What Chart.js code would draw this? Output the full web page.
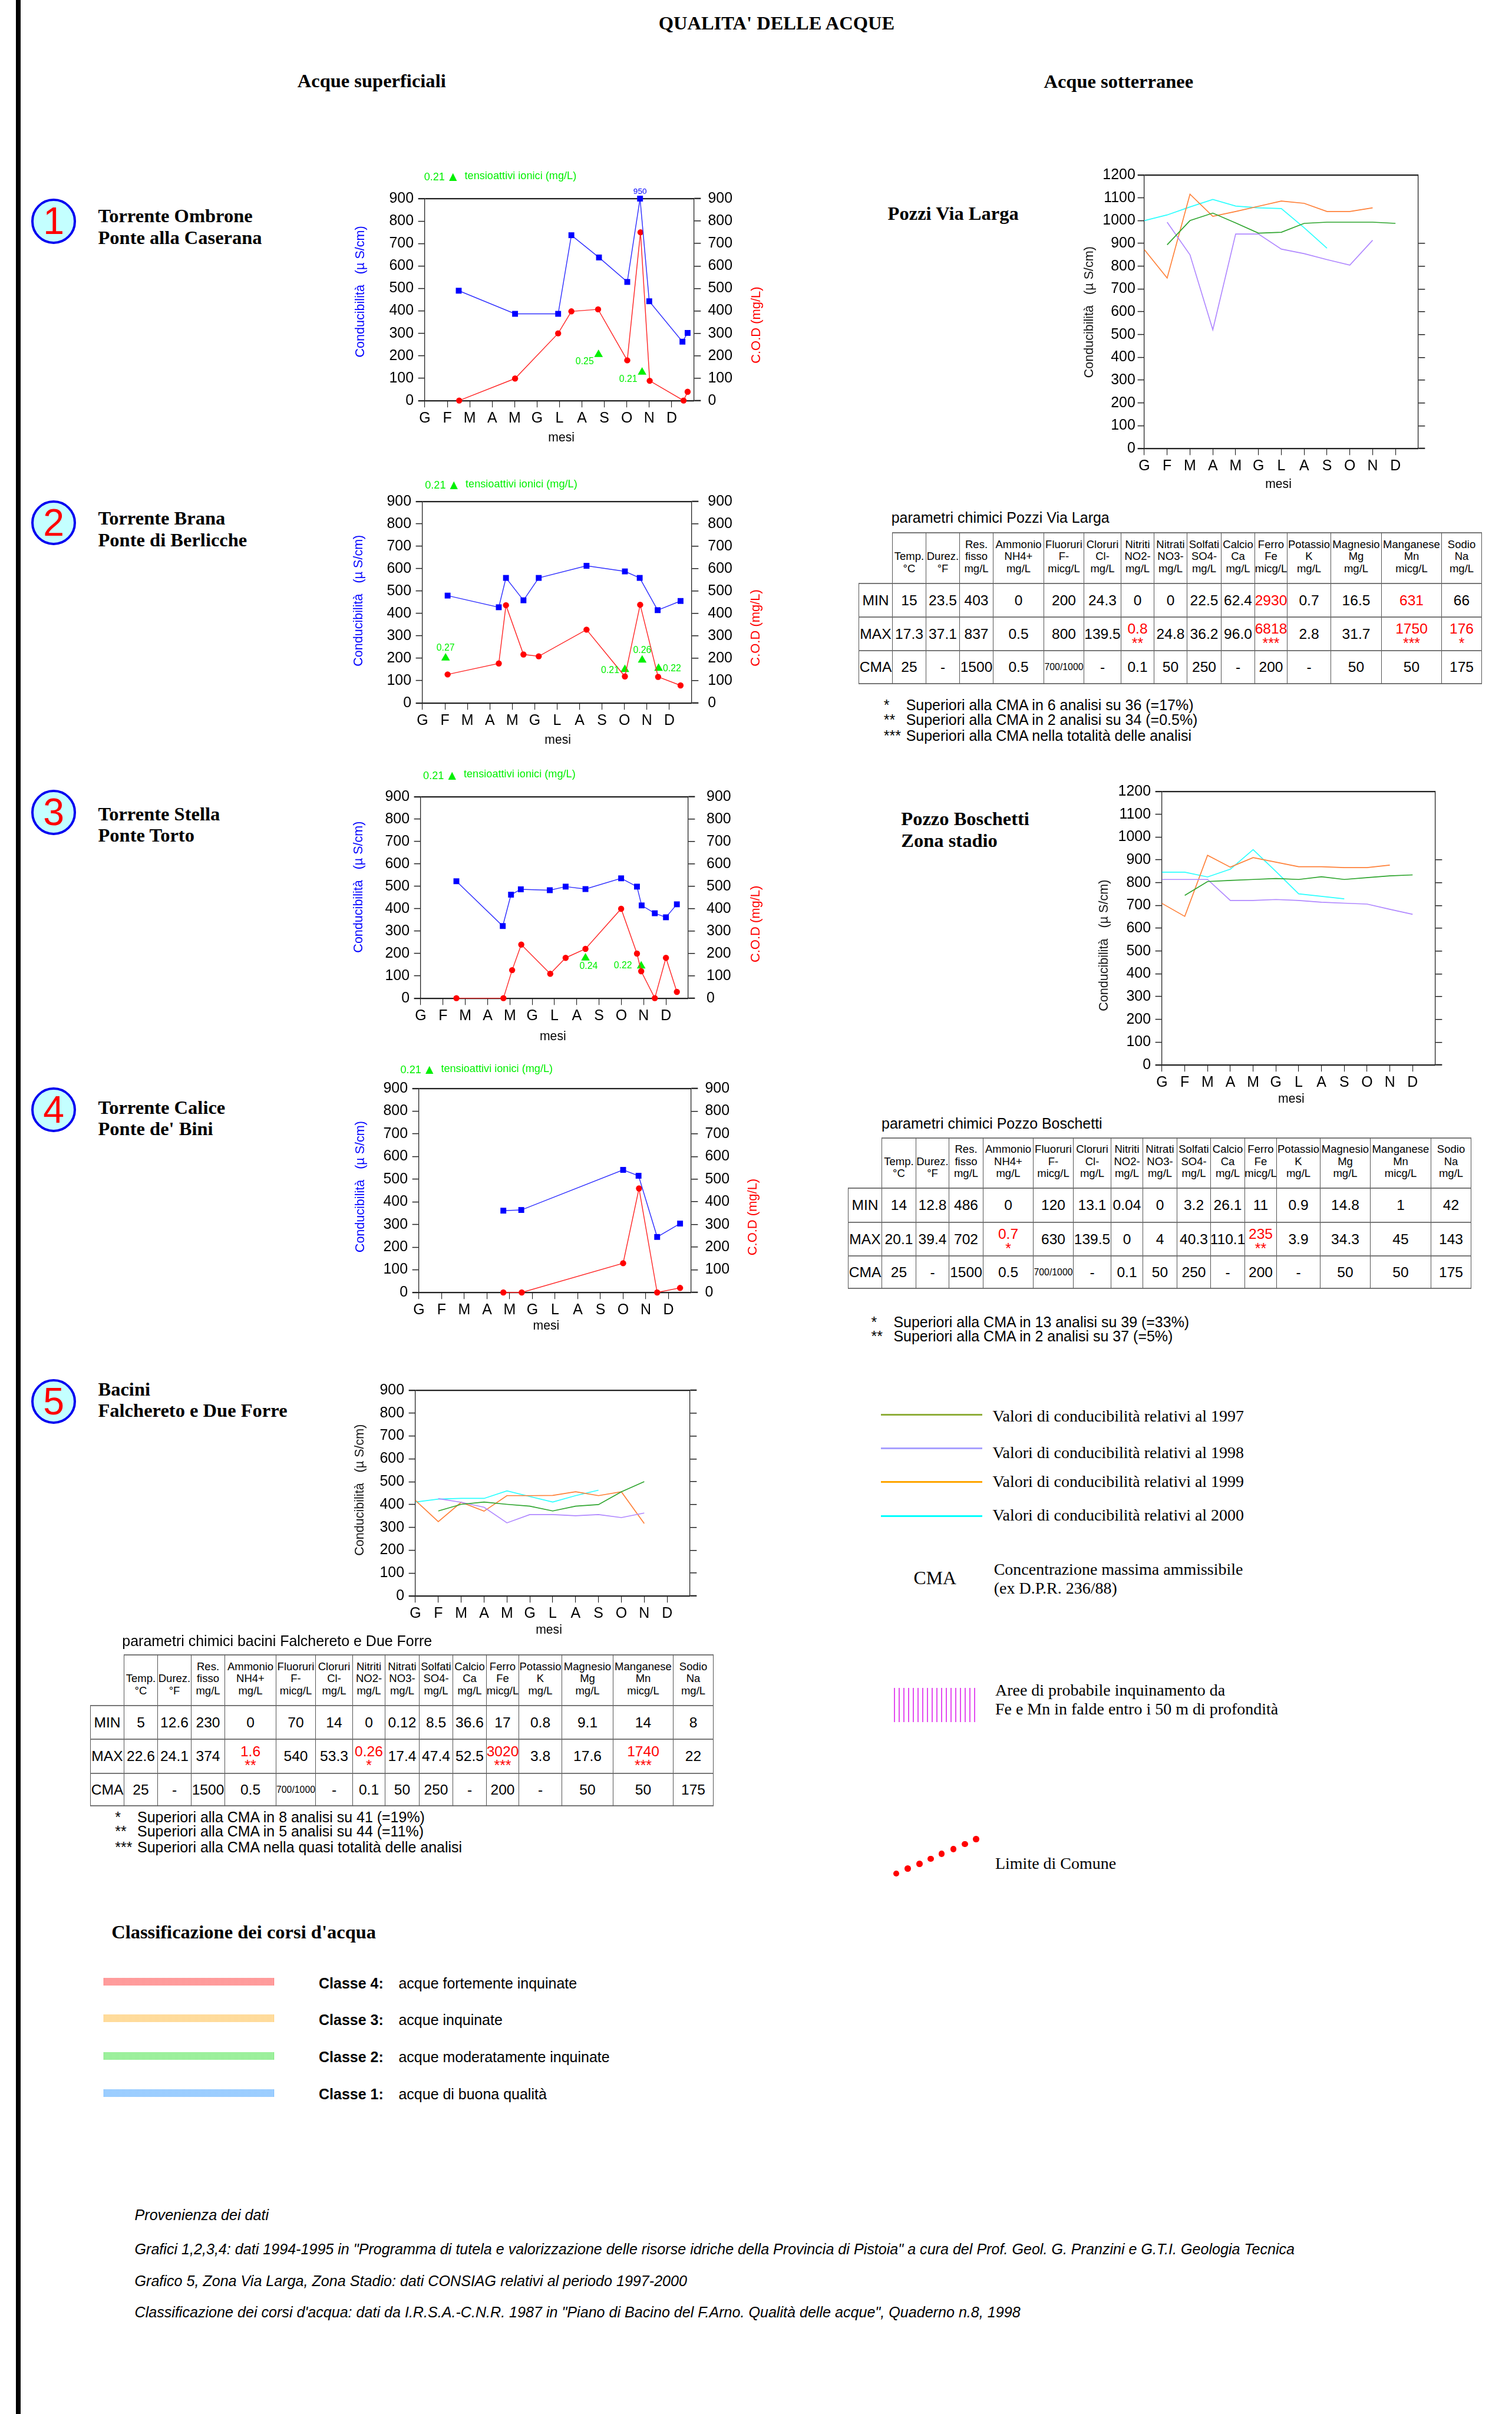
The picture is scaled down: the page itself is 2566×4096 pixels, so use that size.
<!DOCTYPE html>
<html lang="it"><head><meta charset="utf-8"><title>Qualita' delle acque</title>
<script src="https://cdn.jsdelivr.net/npm/chart.js@4"></script>
<style>
html,body{margin:0;padding:0;background:#fff}
#page{position:relative;width:2566px;height:4096px;overflow:hidden;background:#fff}
#page canvas{position:absolute;display:block}
.t{position:absolute;white-space:nowrap;line-height:1;transform:translateY(-50%);color:#000}
.tb{position:absolute;border-spacing:0;border-collapse:separate;table-layout:fixed;font-family:'Liberation Sans',Arial,sans-serif}
.tb td{position:relative;padding:0;box-sizing:border-box}
.tb span{position:absolute;left:50%;transform:translate(-50%,-50%);white-space:nowrap;line-height:1;text-align:center;display:block}
</style></head><body><div id="page"></div>
<script>
// ---------- data ----------
const months=['G','F','M','A','M','G','L','A','S','O','N','D'];
const tickOrder=[0,1,2,3,4,5,6,7,8,9,10,11];

const ombroneCondX=[1.51,4.02,5.94,6.53,7.76,9.02,9.59,10.0,11.48,11.71];
const ombroneCond=[490,387,387,737,638,529,900,443,263,302];
const ombroneCondNotes=['','','','','','','950','','',''];
const ombroneCodX=[1.53,4.02,5.94,6.53,7.72,9.02,9.61,10.02,11.53,11.71];
const ombroneCod=[1,99,300,398,407,180,750,89,1,40];
const ombroneTensX=[7.74,9.68];
const ombroneTens=[206,127];
const ombroneTensNotes=['0.25','0.21'];
const ombroneTensSides=['bl','bl'];

const branaCondX=[1.12,3.40,3.72,4.50,5.18,7.31,9.02,9.68,10.48,11.5];
const branaCond=[480,428,559,459,559,613,588,559,415,456];
const branaCodX=[1.12,3.40,3.72,4.50,5.18,7.31,9.02,9.70,10.5,11.5];
const branaCod=[128,177,437,217,209,328,119,439,117,79];
const branaTensX=[1.03,9.02,9.79,10.52];
const branaTens=[201,150,192,155];
const branaTensNotes=['0.27','0.21','0.26','0.22'];
const branaTensSides=['a','l','a','r'];

const stellaCondX=[1.60,3.68,4.05,4.49,5.79,6.50,7.39,8.99,9.70,9.91,10.5,11.0,11.49];
const stellaCond=[523,323,463,487,483,499,488,536,499,415,380,362,420];
const stellaCodX=[1.6,3.71,4.10,4.51,5.81,6.5,7.39,8.99,9.7,9.89,10.5,11.0,11.49];
const stellaCod=[1,1,126,240,110,181,221,400,200,121,1,181,29];
const stellaTensX=[7.39,9.89];
const stellaTens=[180,145];
const stellaTensNotes=['0.24','0.22'];
const stellaTensSides=['b','ll'];

const caliceCondX=[3.72,4.51,9.0,9.68,10.5,11.51];
const caliceCond=[361,364,541,515,245,304];
const caliceCodX=[3.72,4.53,9.0,9.7,10.5,11.51];
const caliceCod=[0,0,129,459,0,20];

const bacini1997=[null,372,401,411,401,393,372,393,400,456,500,null];
const bacini1998=[null,426,410,388,320,356,356,351,356,343,363,null];
const bacini1999=[418,325,410,371,439,439,440,456,439,456,317,null];
const bacini2000=[411,424,427,427,460,435,411,439,463,null,null,null];

const viaLarga1997=[null,894,1000,1033,990,945,949,988,993,993,993,988];
const viaLarga1998=[null,993,850,521,941,941,875,855,829,805,914,null];
const viaLarga1999=[873,748,1116,1019,1040,1063,1086,1076,1040,1040,1056,null];
const viaLarga2000=[1000,1025,1060,1093,1064,1056,1053,969,879,null,null,null];

const boschetti1997=[null,744,805,810,814,818,814,826,814,822,830,834];
const boschetti1998=[814,814,814,722,722,726,722,714,710,706,683,661];
const boschetti1999=[709,652,920,868,910,890,870,870,866,866,877,null];
const boschetti2000=[846,846,825,859,945,849,751,740,729,null,null,null];

const tableHeaders=[['','Temp.','°C'],['','Durez.','°F'],['Res.','fisso','mg/L'],['Ammonio','NH4+','mg/L'],['Fluoruri','F-','micg/L'],['Cloruri','Cl-','mg/L'],['Nitriti','NO2-','mg/L'],['Nitrati','NO3-','mg/L'],['Solfati','SO4-','mg/L'],['Calcio','Ca','mg/L'],['Ferro','Fe','micg/L'],['Potassio','K','mg/L'],['Magnesio','Mg','mg/L'],['Manganese','Mn','micg/L'],['Sodio','Na','mg/L']];
const cmaRow=['25','-','1500','0.5','700/1000','-','0.1','50','250','-','200','-','50','50','175'];
const viaLargaMin=['15','23.5','403','0','200','24.3','0','0','22.5','62.4','2930','0.7','16.5','631','66'];
const viaLargaMax=['17.3','37.1','837','0.5','800','139.5','0.8','24.8','36.2','96.0','6818','2.8','31.7','1750','176'];
const viaLargaMinRed=[10,13];
const viaLargaStars={6:'**',10:'***',13:'***',14:'*'};
const boschettiMin=['14','12.8','486','0','120','13.1','0.04','0','3.2','26.1','11','0.9','14.8','1','42'];
const boschettiMax=['20.1','39.4','702','0.7','630','139.5','0','4','40.3','110.1','235','3.9','34.3','45','143'];
const boschettiMinRed=[];
const boschettiStars={3:'*',10:'**'};
const baciniMin=['5','12.6','230','0','70','14','0','0.12','8.5','36.6','17','0.8','9.1','14','8'];
const baciniMax=['22.6','24.1','374','1.6','540','53.3','0.26','17.4','47.4','52.5','3020','3.8','17.6','1740','22'];
const baciniMinRed=[];
const baciniStars={3:'**',6:'*',10:'***',13:'***'};

// ---------- layout (reference pixels, scaled by S) ----------
const S=2566/3391;
const SANS="'Liberation Sans',Arial,sans-serif", SERIF="'Liberation Serif','Times New Roman',serif";
const page=document.getElementById('page');
const px=v=>v*S;
const zip=(xs,ys)=>xs.map((x,i)=>({x,y:ys[i]}));
const BLUE='#0000ff',RED='#ff0000',LIME='#00f000';
const YEAR={y1997:'#2fa52f',y1998:'#b088ff',y1999:'#ff8038',y2000:'#2cffff'};
const LEG={y1997:'#8fae3a',y1998:'#a8a0ff',y1999:'#ffa500',y2000:'#00ffff'};
const LEFT=170,RIGHT=170,TOP=80,BOTTOM=110;
const NOTE_OFF={bl:[-31,16],l:[-33,2],ll:[-41,0],a:[0,-22],r:[30,1],b:[7,19],top:[0,-15]};

function T(text,x,y,o={}){
  const d=document.createElement('div');d.className='t';d.textContent=text;
  d.style.left=px(x)+'px';d.style.top=px(y)+'px';
  d.style.fontFamily=o.font||SANS;d.style.fontSize=px(o.size||33)+'px';
  if(o.bold)d.style.fontWeight='bold';if(o.italic)d.style.fontStyle='italic';
  if(o.color)d.style.color=o.color;
  page.appendChild(d);return d;
}
function box(x,y,w,h,bg,extra){
  const d=document.createElement('div');d.style.cssText=`position:absolute;left:${px(x)}px;top:${px(y)}px;width:${px(w)}px;height:${px(h)}px;background:${bg};${extra||''}`;
  page.appendChild(d);return d;
}

const overlays={
  id:'overlays',
  afterDatasetsDraw(chart,args,opts){
    const c=chart.ctx;
    chart.data.datasets.forEach((ds,i)=>{
      if(!ds.notes)return;
      chart.getDatasetMeta(i).data.forEach((el,j)=>{
        if(!ds.notes[j])return;
        const off=NOTE_OFF[ds.noteSides?ds.noteSides[j]:'top'];
        c.save();c.fillStyle=ds.noteColor;c.font=px(ds.noteSize||21)+'px '+SANS;c.textAlign='center';c.textBaseline='middle';
        c.fillText(ds.notes[j],el.x+px(off[0]),el.y+px(off[1]));c.restore();
      });
    });
    (opts.captions||[]).forEach(k=>{
      c.save();c.translate(px(k.x)-opts.ox,px(k.y)-opts.oy);if(k.rot)c.rotate(k.rot);
      c.fillStyle=k.color;c.font=px(k.size)+'px '+SANS;c.textAlign=k.align||'center';c.textBaseline='middle';
      c.fillText(k.text,0,0);c.restore();
    });
  }
};

function makeChart(cfg){
  const {l,r,t,b,max,datasets}=cfg;
  const L=Math.round(px(l-LEFT)),Tp=Math.round(px(t-TOP));
  const W=Math.round(px(r+RIGHT))-L,H=Math.round(px(b+BOTTOM))-Tp;
  const cv=document.createElement('canvas');cv.width=W;cv.height=H;
  cv.style.cssText=`left:${L}px;top:${Tp}px;width:${W}px;height:${H}px`;page.appendChild(cv);
  const lw=Math.round(px(l))-L,rw=L+W-Math.round(px(r)),bh=Tp+H-Math.round(px(b)),tp=Math.round(px(t))-Tp;
  const ink='#222';
  const edge=v=>v===0||v===max;
  const captions=[{text:'Conducibilità   (µ S/cm)',x:cfg.condX,y:cfg.condY,rot:-Math.PI/2,color:cfg.condColor||BLUE,size:28.5},
                  {text:'mesi',x:cfg.mesiX,y:b+cfg.mesi,color:'#000',size:28}];
  if(cfg.codX)captions.push({text:'C.O.D (mg/L)',x:cfg.codX,y:cfg.codY,rot:-Math.PI/2,color:RED,size:29});
  if(cfg.leg){
    captions.push({text:'0.21',x:cfg.leg[0],y:cfg.leg[1],color:LIME,size:24,align:'left'});
    captions.push({text:'▲',x:cfg.leg[0]+65,y:cfg.leg[1],color:LIME,size:30});
    captions.push({text:'tensioattivi ionici (mg/L)',x:cfg.leg[0]+91,y:cfg.leg[1]-3,color:LIME,size:24,align:'left'});
  }
  return new Chart(cv,{
    type:'line',
    data:{datasets},
    plugins:[overlays],
    options:{
      responsive:false,animation:false,devicePixelRatio:1,
      layout:{padding:{top:tp,left:0,right:0,bottom:0}},
      plugins:{legend:{display:false},tooltip:{enabled:false},overlays:{captions,ox:L,oy:Tp}},
      elements:{line:{tension:0,borderWidth:px(2.2)}},
      scales:{
        x:{type:'linear',min:0,max:12,
          afterBuildTicks:s=>{s.ticks=tickOrder.map(value=>({value}));},
          afterFit:s=>{s.height=bh;},
          border:{display:true,color:ink,width:px(1.5)},
          grid:{drawOnChartArea:false,drawTicks:true,tickLength:px(15),color:ink,lineWidth:px(1.5)},
          ticks:{autoSkip:false,maxRotation:0,minRotation:0,padding:4,color:'#000',font:{family:SANS,size:px(33)},callback:v=>months[v]}
        },
        y:{position:'left',min:0,max,
          afterFit:s=>{s.width=lw;},
          border:{display:true,color:ink,width:px(1.7)},
          grid:{drawOnChartArea:true,drawTicks:true,tickLength:px(15),
            color:c=>edge(c.tick.value)?ink:'rgba(0,0,0,0)',
            lineWidth:c=>edge(c.tick.value)?px(3):px(1.5),
            tickColor:ink,tickWidth:c=>edge(c.tick.value)?px(3):px(2)},
          ticks:{stepSize:100,autoSkip:false,padding:px(cfg.padL||10),color:'#000',font:{family:SANS,size:px(33)},callback:v=>String(v)}
        },
        y2:{position:'right',min:0,max,
          afterFit:s=>{s.width=rw;},
          border:{display:true,color:ink,width:px(1.7)},
          grid:{drawOnChartArea:false,drawTicks:true,tickLength:px(15),
            color:ink,lineWidth:px(2),
            tickColor:c=>(cfg.rightTickMax&&c.tick.value>cfg.rightTickMax)?'rgba(0,0,0,0)':ink,
            tickWidth:c=>edge(c.tick.value)?px(3):px(2)},
          ticks:{display:cfg.rightLabels!==false,stepSize:100,autoSkip:false,padding:px(cfg.padR||16),color:'#000',font:{family:SANS,size:px(33)},callback:v=>String(v)}
        }
      }
    }
  });
}
const series=(pts,color,axis,pointStyle,r,notes)=>({data:pts,borderColor:color==BLUE?'#3030ff':'#ff2828',borderWidth:px(1.9),backgroundColor:color,pointBackgroundColor:color,pointBorderColor:color,pointBorderWidth:0,pointStyle,pointRadius:r,yAxisID:axis,clip:false,notes,noteColor:color,noteSize:18});
const tens=(xs,ys,notes,sides)=>({data:zip(xs,ys),showLine:false,pointStyle:'triangle',pointRadius:8.5,pointBackgroundColor:LIME,pointBorderColor:LIME,pointBorderWidth:0,yAxisID:'y2',clip:false,notes,noteSides:sides,noteColor:LIME,noteSize:21});
const yearLine=(vals,c)=>({data:zip(tickOrder,vals),borderColor:c,pointRadius:0,yAxisID:'y',clip:false,spanGaps:false});
const four=(a,b,c,d)=>[yearLine(a,YEAR.y1997),yearLine(b,YEAR.y1998),yearLine(c,YEAR.y1999),yearLine(d,YEAR.y2000)];
const RS=7,RC=5.2;

makeChart({l:953,r:1557,t:446,b:899,max:900,mesi:83,mesiX:1259,condX:809,condY:654,codX:1697,codY:729,leg:[951,398],
  datasets:[series(zip(ombroneCondX,ombroneCond),BLUE,'y','rect',RS,ombroneCondNotes),series(zip(ombroneCodX,ombroneCod),RED,'y2','circle',RC),tens(ombroneTensX,ombroneTens,ombroneTensNotes,ombroneTensSides)]});
makeChart({l:947,r:1551,t:1124,b:1577,max:900,mesi:83,mesiX:1251,padR:21,condX:805,condY:1347,codX:1696,codY:1408,leg:[953,1089],
  datasets:[series(zip(branaCondX,branaCond),BLUE,'y','rect',RS),series(zip(branaCodX,branaCod),RED,'y2','circle',RC),tens(branaTensX,branaTens,branaTensNotes,branaTensSides)]});
makeChart({l:943,r:1544,t:1787,b:2239,max:900,mesi:86,mesiX:1240,padR:26,condX:805,condY:1989,codX:1695,codY:2072,leg:[949,1740],
  datasets:[series(zip(stellaCondX,stellaCond),BLUE,'y','rect',RS),series(zip(stellaCodX,stellaCod),RED,'y2','circle',RC),tens(stellaTensX,stellaTens,stellaTensNotes,stellaTensSides)]});
makeChart({l:939,r:1550,t:2441,b:2898,max:900,mesi:76,mesiX:1225,condX:809,condY:2661,codX:1689,codY:2729,leg:[898,2400],
  datasets:[series(zip(caliceCondX,caliceCond),BLUE,'y','rect',RS),series(zip(caliceCodX,caliceCod),RED,'y2','circle',RC)]});
makeChart({l:932,r:1548,t:3117,b:3578,max:900,mesi:77,mesiX:1231,rightLabels:false,condX:807,condY:3341,condColor:'#111',
  datasets:four(bacini1997,bacini1998,bacini1999,bacini2000)});
makeChart({l:2567,r:3181,t:393,b:1006,max:1200,mesi:81,mesiX:2867,padL:5,rightLabels:false,rightTickMax:900,condX:2443,condY:700,condColor:'#111',
  datasets:four(viaLarga1997,viaLarga1998,viaLarga1999,viaLarga2000)});
makeChart({l:2606,r:3219,t:1775,b:2388,max:1200,mesi:77,mesiX:2896,rightLabels:false,rightTickMax:900,condX:2477,condY:2120,condColor:'#111',
  datasets:four(boschetti1997,boschetti1998,boschetti1999,boschetti2000)});

// ---------- tables ----------
function makeTable(xs,ys,mins,maxs,minRed,stars){
  const R=a=>a.map(v=>Math.round(px(v)));
  const X=R(xs),Y=R(ys);
  const tb=document.createElement('table');tb.className='tb';
  tb.style.left=X[0]+'px';tb.style.top=Y[0]+'px';tb.style.width=(X[X.length-1]-X[0])+'px';
  const cg=document.createElement('colgroup');
  for(let i=0;i<X.length-1;i++){const c=document.createElement('col');c.style.width=(X[i+1]-X[i])+'px';cg.appendChild(c);}
  tb.appendChild(cg);
  const V='1px solid #555',Hz='2px solid #777';
  const span=(txt,dy,size,color)=>{const s=document.createElement('span');s.textContent=txt;s.style.top=`calc(50% + ${px(dy)}px)`;s.style.fontSize=px(size)+'px';s.style.color=color||'#000';return s;};
  const rows=[null,['MIN',mins],['MAX',maxs],['CMA',cmaRow]];
  rows.forEach((row,ri)=>{
    const tr=document.createElement('tr');tr.style.height=(Y[ri+1]-Y[ri])+'px';
    for(let ci=0;ci<X.length-1;ci++){
      const td=document.createElement('td');
      td.style.height=(Y[ri+1]-Y[ri])+'px';
      if(ri>0||ci>0){td.style.borderLeft=V;td.style.borderTop=Hz;}
      if(ci===X.length-2)td.style.borderRight=V;
      if(ri===3)td.style.borderBottom=Hz;
      if(ri===0&&ci>0){
        const h=tableHeaders[ci-1];
        const s=span('',-4,24.5);s.style.lineHeight=px(26.8)+'px';
        h.forEach((ln,k)=>{if(k)s.appendChild(document.createElement('br'));s.appendChild(document.createTextNode(ln||'\u00a0'));});
        td.appendChild(s);
      }else if(ri>0&&ci===0){
        td.appendChild(span(row[0],0,32.5));
      }else if(ri>0){
        const idx=ci-1,val=row[1][idx];
        if(ri===2&&stars[idx]){
          td.appendChild(span(val,-11,32.5,RED));
          td.appendChild(span(stars[idx],20,33,RED));
        }else if(ri===1&&minRed.includes(idx)){
          td.appendChild(span(val,0,32.5,RED));
        }else{
          td.appendChild(span(val,0,val==='700/1000'?21:32.5));
        }
      }
      tr.appendChild(td);
    }
    tb.appendChild(tr);
  });
  page.appendChild(tb);
}
makeTable([1925,2001,2076,2152,2227,2341,2430,2514,2587,2662,2738,2813,2886,2984,3097,3232,3324],[1193,1307,1382,1458,1534],viaLargaMin,viaLargaMax,viaLargaMinRed,viaLargaStars);
makeTable([1902,1977,2053,2128,2204,2317,2407,2491,2563,2639,2715,2791,2863,2960,3073,3209,3300],[2550,2663,2739,2815,2890],boschettiMin,boschettiMax,boschettiMinRed,boschettiStars);
makeTable([202,277,353,428,504,618,707,790,863,939,1015,1090,1163,1260,1374,1509,1601],[3710,3823,3899,3975,4050],baciniMin,baciniMax,baciniMinRed,baciniStars);

// ---------- page furniture ----------
box(36,0,10,5413,'#000');
const HB={font:SERIF,bold:true,size:43};
T("QUALITA' DELLE ACQUE",1477,52,HB);
T('Acque superficiali',667,181,HB);
T('Acque sotterranee',2341,183,HB);
[['1',496],['2',1172],['3',1821],['4',2488],['5',3142]].forEach(([n,y])=>{
  box(70,y-50,101,101,'#c4ffff','box-sizing:border-box;border:'+px(6)+'px solid #0000f0;border-radius:50%');
  const t=T(n,120.5,y,{size:85,color:'#ff0000'});t.style.transform='translate(-50%,-50%)';
});
[['Torrente Ombrone',484],['Ponte alla Caserana',532],['Torrente Brana',1162],['Ponte di Berlicche',1210],['Torrente Stella',1825],['Ponte Torto',1873],["Torrente Calice",2483],["Ponte de' Bini",2531],['Bacini',3115],['Falchereto e Due Forre',3163]].forEach(([s,y])=>T(s,220,y,HB));
T('Pozzi Via Larga',1991,479,HB);
T('Pozzo Boschetti',2021,1836,HB);
T('Zona stadio',2021,1885,HB);
T('parametri chimici Pozzi Via Larga',1999,1160);
T('parametri chimici Pozzo Boschetti',1977,2519);
T('parametri chimici bacini Falchereto e Due Forre',274,3679);
[['*',1982,1581,'Superiori alla CMA in 6 analisi su 36 (=17%)'],['**',1982,1614,'Superiori alla CMA in 2 analisi su 34 (=0.5%)'],['***',1982,1649,'Superiori alla CMA nella totalità delle analisi'],
 ['*',1954,2964,'Superiori alla CMA in 13 analisi su 39 (=33%)'],['**',1954,2996,'Superiori alla CMA in 2 analisi su 37 (=5%)'],
 ['*',258,4074,'Superiori alla CMA in 8 analisi su 41 (=19%)'],['**',258,4106,'Superiori alla CMA in 5 analisi su 44 (=11%)'],['***',258,4141,'Superiori alla CMA nella quasi totalità delle analisi']
].forEach(([st,x,y,s])=>{T(st,x,y);T(s,x+50,y);});
// legend of years
const LT={font:SERIF,size:37};
[[3172,3175,LEG.y1997,'Valori di conducibilità relativi al 1997'],[3248,3257,LEG.y1998,'Valori di conducibilità relativi al 1998'],[3323,3322,LEG.y1999,'Valori di conducibilità relativi al 1999'],[3399,3398,LEG.y2000,'Valori di conducibilità relativi al 2000']].forEach(([ly,ty,c,s])=>{
  box(1976,ly-2,227,4,c);T(s,2226,ty,LT);
});
T('CMA',2049,3539,{font:SERIF,size:42});
T('Concentrazione massima ammissibile',2229,3519,LT);
T('(ex D.P.R. 236/88)',2229,3562,LT);
box(2005,3785,187,76,'repeating-linear-gradient(90deg,#e44cf0 0,#e44cf0 2px,#fff 2px,#fff 8px)');
T('Aree di probabile inquinamento da',2232,3790,LT);
T('Fe e Mn in falde entro i 50 m di profondità',2232,3833,LT);
[[2010,4201],[2036,4190],[2062,4179],[2087,4168],[2112,4157],[2138,4146],[2164,4135],[2189,4124]].forEach(([x,y])=>box(x-7,y-7,14,14,'#ff0000','border-radius:50%'));
T('Limite di Comune',2232,4179,LT);
// classes
T("Classificazione dei corsi d'acqua",250,4332,HB);
[[4444,4447,'#ff3838','Classe 4:','acque fortemente inquinate'],[4526,4529,'#ffb838','Classe 3:','acque inquinate'],[4610,4612,'#38e038','Classe 2:','acque moderatamente inquinate'],[4693,4695,'#389cff','Classe 1:','acque di buona qualità']].forEach(([by,ty,c,a,s])=>{
  box(233,by-8.5,381,17,`repeating-linear-gradient(90deg,${c} 0,${c} 1px,#fff 1px,#fff 2px)`);
  T(a,715,ty,{bold:true,size:33});T(s,894,ty,{size:33});
});
// sources
const IT={italic:true,size:33.2};
[['Provenienza dei dati',4968],['Grafici 1,2,3,4: dati 1994-1995 in "Programma di tutela e valorizzazione delle risorse idriche della Provincia di Pistoia" a cura del Prof. Geol. G. Pranzini e G.T.I. Geologia Tecnica',5044],['Grafico 5, Zona Via Larga, Zona Stadio: dati CONSIAG relativi al periodo 1997-2000',5115],["Classificazione dei corsi d'acqua: dati da I.R.S.A.-C.N.R. 1987 in \"Piano di Bacino del F.Arno. Qualità delle acque\", Quaderno n.8, 1998",5185]].forEach(([s,y])=>T(s,302,y,IT));
</script></body></html>
